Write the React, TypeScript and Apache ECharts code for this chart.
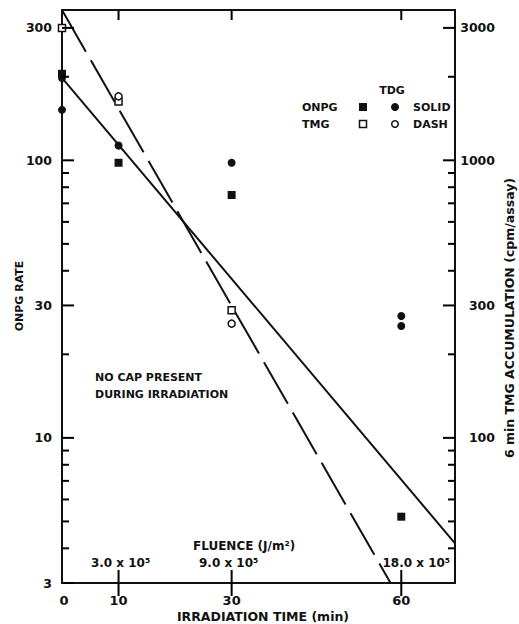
import React, { useEffect, useRef } from 'react';
import * as echarts from 'echarts';

// ---------- data ----------
const X_MAX = 69.5;
const LEFT_MIN = 3;
const LEFT_MAX = 348;
const RIGHT_MIN = 30;
const RIGHT_MAX = 3480;

// ONPG rate (left axis), filled markers
const onpgNoTdg = [[0, 205], [10, 98], [30, 75], [60, 5.2]];
const onpgTdg = [[0, 198], [0, 152], [10, 113], [30, 98], [60, 27.5], [60, 25.3]];
// TMG accumulation (right axis, cpm/assay), open markers
const tmgNoTdg = [[0, 3000], [10, 1630], [30, 288]];
const tmgTdg = [[10, 1700], [30, 258]];
// fitted lines
const solidFit = [[0, 198], [69.5, 4.17]]; // ONPG, left axis
const dashFit = [[0, 3480], [58.1, 30]]; // TMG, right axis

// axis ticks / labels
const leftTicks = [3, 4, 5, 6, 7, 8, 9, 10, 20, 30, 40, 50, 60, 70, 80, 90, 100, 200, 300];
const leftLabels = [3, 10, 30, 100, 300];
const rightTicks = [40, 50, 60, 70, 80, 90, 100, 200, 300, 400, 500, 600, 700, 800, 900, 1000, 2000, 3000];
const rightLabels = [100, 300, 1000, 3000];
const xTicks = [10, 30, 60];
const xLabels = [0, 10, 30, 60];
const fluenceLabels = ['3.0 x 10⁵', '9.0 x 10⁵', '18.0 x 10⁵'];

// ---------- style ----------
const INK = '#111';
const FONT = '"DejaVu Sans", sans-serif';
const font = (size: number) => `bold ${size}px ${FONT}`;

const txt = (text: string, x: number, y: number, size: number, align = 'left', extra: any = {}) => ({
  type: 'text',
  x,
  y,
  silent: true,
  ...extra,
  style: {
    text,
    font: font(size),
    fill: INK,
    textAlign: align,
    align,
    textVerticalAlign: 'middle',
    verticalAlign: 'middle',
  },
});

// tick mark as a small filled rectangle (w/h may be negative)
const bar = (x: number, y: number, w: number, h: number) => ({
  type: 'rect',
  silent: true,
  z: 100,
  shape: { x: Math.min(x, x + w), y: Math.min(y, y + h), width: Math.abs(w), height: Math.abs(h) },
  style: { fill: '#000', stroke: null },
});

const fluenceOffsets = [2, -3, 15];

function baseOption(): any {
  const axisCommon = {
    axisLine: { show: true, onZero: false, lineStyle: { color: INK, width: 2 } },
    axisTick: { show: false },
    axisLabel: { show: false },
    splitLine: { show: false },
    minorTick: { show: false },
  };
  const filled = { color: INK, opacity: 1 };
  const open = { color: '#fff', borderColor: INK, borderWidth: 1.5, opacity: 1 };
  return {
    animation: false,
    backgroundColor: '#fff',
    grid: { left: 62, right: 64, top: 10, bottom: 41, containLabel: false },
    xAxis: [
      { type: 'value', min: 0, max: X_MAX, position: 'bottom', ...axisCommon },
      { type: 'value', min: 0, max: X_MAX, position: 'top', ...axisCommon },
    ],
    yAxis: [
      { type: 'log', logBase: 10, min: LEFT_MIN, max: LEFT_MAX, position: 'left', ...axisCommon },
      { type: 'log', logBase: 10, min: RIGHT_MIN, max: RIGHT_MAX, position: 'right', ...axisCommon },
    ],
    series: [
      {
        type: 'line', name: 'ONPG fit', xAxisIndex: 0, yAxisIndex: 0, data: solidFit,
        symbol: 'none', silent: true, lineStyle: { color: INK, width: 2 },
      },
      {
        type: 'line', name: 'TMG fit', xAxisIndex: 0, yAxisIndex: 1, data: dashFit,
        symbol: 'none', silent: true, lineStyle: { color: INK, width: 2, type: [48, 10] },
      },
      {
        type: 'scatter', name: 'ONPG', xAxisIndex: 0, yAxisIndex: 0, data: onpgNoTdg,
        symbol: 'rect', symbolSize: 8, clip: false, itemStyle: filled, z: 5,
      },
      {
        type: 'scatter', name: 'ONPG + TDG', xAxisIndex: 0, yAxisIndex: 0, data: onpgTdg,
        symbol: 'circle', symbolSize: 8, clip: false, itemStyle: filled, z: 5,
      },
      {
        type: 'scatter', name: 'TMG', xAxisIndex: 0, yAxisIndex: 1, data: tmgNoTdg,
        symbol: 'rect', symbolSize: 7, clip: false, itemStyle: open, z: 5,
      },
      {
        type: 'scatter', name: 'TMG + TDG', xAxisIndex: 0, yAxisIndex: 1, data: tmgTdg,
        symbol: 'circle', symbolSize: 7, clip: false, itemStyle: open, z: 5,
      },
    ],
  };
}

// ticks, tick labels and annotations, positioned through the chart's own axis scales
function furniture(chart: echarts.ECharts): any[] {
  const xPx = (v: number) => chart.convertToPixel({ xAxisIndex: 0 }, v) as number;
  const yL = (v: number) => chart.convertToPixel({ yAxisIndex: 0 }, v) as number;
  const yR = (v: number) => chart.convertToPixel({ yAxisIndex: 1 }, v) as number;
  const x0 = xPx(0);
  const xEnd = xPx(X_MAX);
  const yBottom = yL(LEFT_MIN);
  const yTop = yL(LEFT_MAX);
  const els: any[] = [];

  leftTicks.forEach((v) => {
    const y = yL(v);
    const major = leftLabels.includes(v);
    els.push(bar(x0, y - 1, major ? 12 : 7, 2));
    if (major) els.push(txt(String(v), x0 - 10, y, 12.5, 'right'));
  });
  rightTicks.forEach((v) => {
    const y = yR(v);
    const major = rightLabels.includes(v);
    els.push(bar(xEnd, y - 1, major ? -12 : -7, 2));
    if (major) els.push(txt(String(v), xEnd + 40, y, 12.5, 'right'));
  });
  xLabels.forEach((v) => {
    const x = xPx(v);
    els.push(txt(String(v), x + (v === 0 ? 2 : 0), yBottom + 17, 13, 'center'));
  });
  xTicks.forEach((v, i) => {
    const x = xPx(v);
    els.push(bar(x - 1, yBottom - 13, 2, 26));
    els.push(bar(x - 1, yTop, 2, 10));
    els.push(txt(fluenceLabels[i], x + fluenceOffsets[i], yBottom - 20, 12, 'center'));
  });

  els.push(
    txt('ONPG RATE', 19, 296, 11, 'center', { rotation: Math.PI / 2 }),
    txt('6 min TMG ACCUMULATION (cpm/assay)', 509, 318, 12.5, 'center', { rotation: Math.PI / 2 }),
    txt('IRRADIATION TIME (min)', 263, 616, 12.5, 'center'),
    txt('FLUENCE (J/m²)', 193, 546, 12, 'left'),
    txt('NO CAP PRESENT', 95, 377, 11, 'left'),
    txt('DURING IRRADIATION', 95, 394, 11, 'left'),
    txt('TDG', 392, 90, 11, 'center'),
    txt('ONPG', 302, 107, 11, 'left'),
    txt('TMG', 302, 124, 11, 'left'),
    txt('SOLID', 413, 107, 11, 'left'),
    txt('DASH', 413, 124, 11, 'left'),
    { type: 'rect', silent: true, shape: { x: 359, y: 103, width: 8, height: 8 }, style: { fill: INK } },
    { type: 'circle', silent: true, shape: { cx: 395, cy: 107, r: 4 }, style: { fill: INK } },
    { type: 'rect', silent: true, shape: { x: 359.5, y: 120.5, width: 7, height: 7 }, style: { fill: '#fff', stroke: INK, lineWidth: 1.5 } },
    { type: 'circle', silent: true, shape: { cx: 395, cy: 124, r: 3.3 }, style: { fill: '#fff', stroke: INK, lineWidth: 1.5 } },
  );
  return els;
}

export default function App() {
  const ref = useRef<HTMLDivElement>(null);
  useEffect(() => {
    if (!ref.current) return;
    const chart = echarts.init(ref.current, null, { renderer: 'svg' });
    chart.setOption(baseOption());
    chart.setOption({ graphic: { elements: furniture(chart) } });
    return () => chart.dispose();
  }, []);
  return (
    <div
      ref={ref}
      style={{ position: 'fixed', left: 0, top: 0, width: 519, height: 624, background: '#fff' }}
    />
  );
}
